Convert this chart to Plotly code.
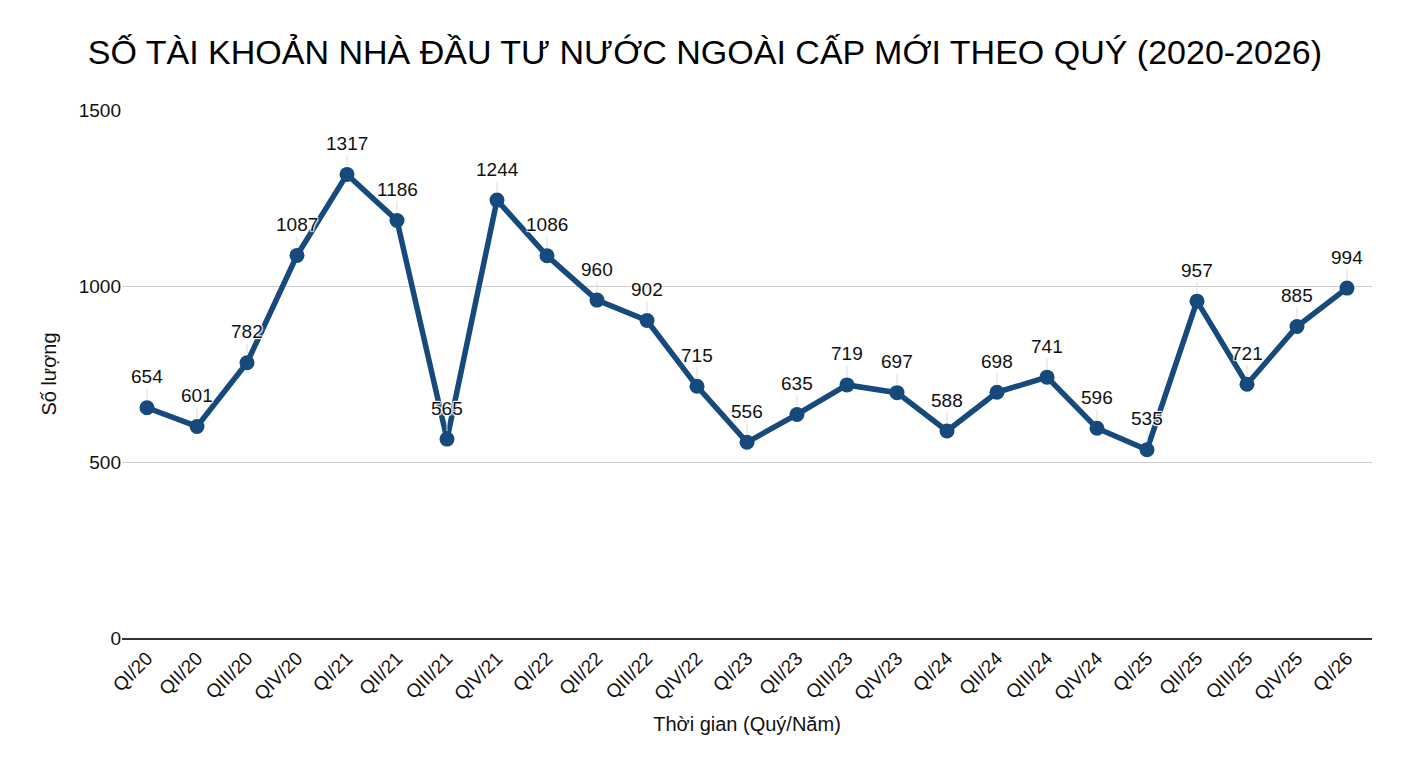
import plotly.graph_objects as go

quarters = ["QI/20", "QII/20", "QIII/20", "QIV/20",
            "QI/21", "QII/21", "QIII/21", "QIV/21",
            "QI/22", "QII/22", "QIII/22", "QIV/22",
            "QI/23", "QII/23", "QIII/23", "QIV/23",
            "QI/24", "QII/24", "QIII/24", "QIV/24",
            "QI/25", "QII/25", "QIII/25", "QIV/25",
            "QI/26"]
accounts = [654, 601, 782, 1087,
            1317, 1186, 565, 1244,
            1086, 960, 902, 715,
            556, 635, 719, 697,
            588, 698, 741, 596,
            535, 957, 721, 885,
            994]
y_ticks = [0, 500, 1000, 1500]

line_color = "#174a7c"
font_name = "Liberation Sans, Arial, sans-serif"
halo = "white 1px 1px 1px, white -1px -1px 1px, white 1px -1px 1px, white -1px 1px 1px"

fig = go.Figure()
fig.add_trace(go.Scatter(
    x=quarters, y=accounts, mode="lines+markers",
    line=dict(color=line_color, width=5.5),
    marker=dict(color=line_color, size=15),
    hoverinfo="x+y", showlegend=False,
))

# value labels above each point with a faint leader line
for q, v in zip(quarters, accounts):
    fig.add_annotation(
        x=q, y=v, text=str(v), showarrow=True,
        arrowhead=0, arrowwidth=1, arrowcolor="#dddddd",
        ax=0, ay=-31, standoff=8,
        font=dict(family=font_name, size=19, color="#111111", shadow=halo),
    )

# page body adds an 8px offset, margins compensate for it
fig.update_layout(
    width=1408, height=768,
    paper_bgcolor="white", plot_bgcolor="white",
    margin=dict(l=114, r=44, t=102, b=138),
    font=dict(family=font_name, color="#111111"),
    title=dict(
        text="SỐ TÀI KHOẢN NHÀ ĐẦU TƯ NƯỚC NGOÀI CẤP MỚI THEO QUÝ (2020-2026)",
        x=0.495, xref="container", xanchor="center",
        y=1 - 44 / 768, yref="container", yanchor="middle",
        font=dict(family=font_name, size=34, color="#000000"),
    ),
)

fig.update_xaxes(
    type="category", range=[-0.5, len(quarters) - 0.5],
    tickangle=-45, tickfont=dict(size=19, color="#111111"),
    showgrid=False, showline=True, linecolor="#333333", linewidth=1.5,
    ticks="", ticklen=0,
    title=dict(text="Thời gian (Quý/Năm)", font=dict(size=20, color="#111111"),
               standoff=14),
)
fig.update_yaxes(
    range=[0, 1500], tickvals=y_ticks,
    tickfont=dict(size=19, color="#111111"),
    showgrid=True, gridcolor="#cccccc", gridwidth=1,
    zeroline=False, showline=False, ticks="",
    title=dict(text="Số lượng", font=dict(size=20, color="#111111"), standoff=16),
)

fig.write_html("out.html")
